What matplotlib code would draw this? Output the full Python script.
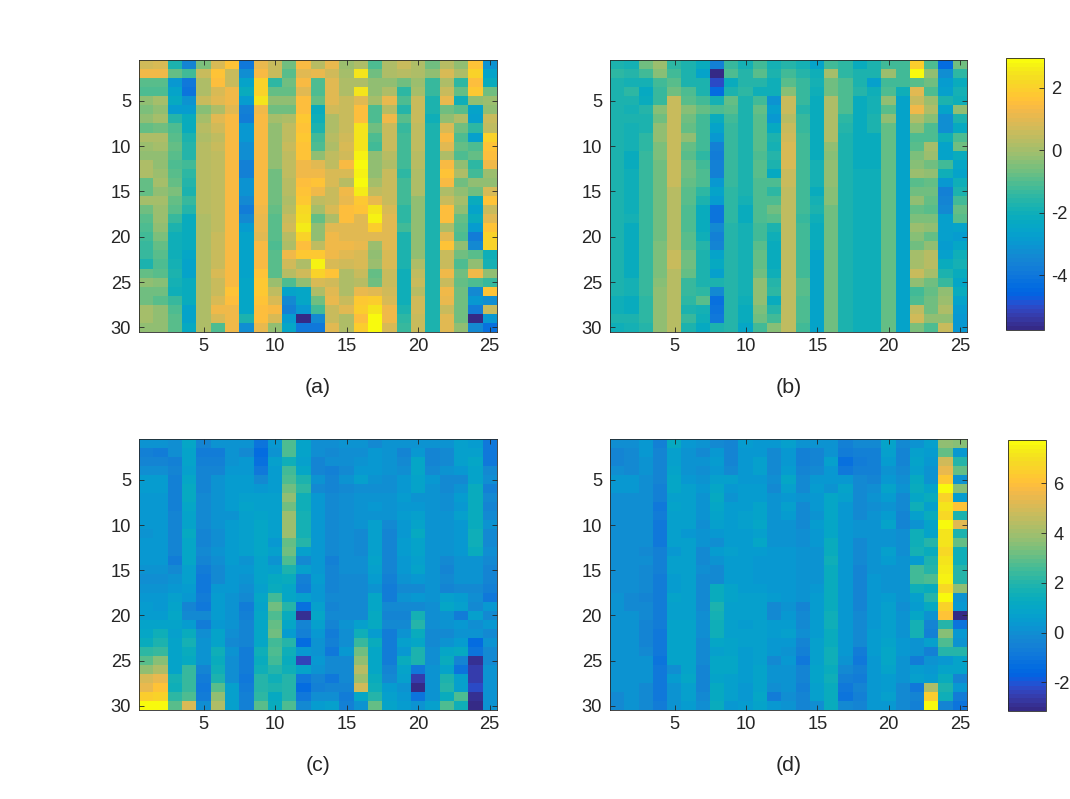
import numpy as np
import matplotlib
matplotlib.use("Agg")
import matplotlib.pyplot as plt
from matplotlib.colors import ListedColormap

plt.rcParams['font.family'] = ['Liberation Sans', 'DejaVu Sans']

panel_a = [
[0.7,0.8,-1.7,-3.5,-0.5,0.9,1.7,-3.9,1.1,0.5,-0.7,1.4,0.3,1.1,-0.1,0.1,-1.1,0.2,0.5,0.1,-0.6,0.3,-0.2,1.7,-3.1],
[1.2,1.2,-0.8,-1.2,0.5,1.7,0.6,-3.2,1.4,0.6,-1.0,1.0,1.1,0.7,0.0,2.4,-0.7,0.1,0.3,0.1,-0.3,0.8,0.2,2.0,-2.5],
[-1.0,-1.0,-3.0,-3.9,0.1,1.5,0.6,-2.6,2.0,-1.5,-0.7,1.4,-1.1,1.0,0.2,0.2,-0.3,-0.3,-0.7,-0.1,-1.4,0.1,-1.5,1.5,-2.1],
[-1.1,-1.1,-2.6,-4.0,0.1,0.9,1.2,-2.1,2.1,-0.8,-0.8,1.0,-1.1,1.0,0.1,2.5,-0.3,0.1,-1.5,0.0,-1.4,0.6,-0.8,1.8,-0.6],
[-0.3,0.0,-2.3,-3.1,0.6,1.0,1.2,-2.9,2.4,-0.3,-0.3,1.5,-0.8,1.0,0.5,1.0,0.0,1.1,-1.1,0.6,-1.8,1.1,-2.0,-0.3,-0.1],
[-0.5,-0.2,-2.9,-2.9,-0.4,0.1,1.0,-3.6,1.2,-0.6,-0.6,1.5,-2.1,0.7,0.6,1.5,-1.1,0.3,-1.6,0.6,-1.7,-0.7,-0.9,-2.6,-0.3],
[-0.3,0.0,-1.6,-2.2,0.0,1.0,1.4,-3.8,1.4,0.0,0.2,1.8,-2.0,0.1,0.6,1.5,-1.1,1.2,-1.0,0.6,-2.0,-0.3,0.1,-2.7,0.6],
[-0.8,-0.7,-1.1,-2.2,0.3,0.7,1.4,-3.0,1.4,-0.3,0.4,1.7,-1.7,0.1,0.6,2.5,-0.7,0.6,-1.3,0.4,-1.7,0.9,-0.7,-1.5,0.4],
[0.1,0.1,-0.9,-1.8,0.1,0.4,1.4,-3.0,1.4,-0.3,0.4,1.8,-1.2,0.3,0.7,2.4,-1.1,0.6,-1.2,0.4,-1.7,1.4,-1.1,-2.7,2.1],
[-0.1,0.0,-0.8,-1.6,0.3,0.6,1.4,-3.2,1.4,-0.3,0.5,1.7,-1.1,0.1,0.8,2.4,-1.2,0.5,-1.2,0.4,-1.7,1.0,-0.8,-1.1,1.7],
[-0.2,-0.2,-0.9,-1.6,0.3,0.4,1.4,-3.2,1.4,-0.3,0.4,1.7,-0.2,0.4,0.7,2.7,-0.3,0.3,-1.2,0.3,-1.7,0.1,-1.1,-0.8,1.5],
[0.2,-0.2,-1.1,-1.2,0.3,0.4,1.4,-3.7,1.4,-0.3,0.4,1.3,1.0,0.4,1.4,2.9,-0.2,0.1,-1.2,0.3,-1.7,1.4,-0.3,-1.5,1.2],
[0.2,-0.1,-1.0,-1.5,0.3,0.4,1.4,-3.6,1.4,-0.6,0.4,1.3,1.3,0.9,0.8,2.8,-0.2,0.5,-1.5,0.1,-1.7,1.7,0.1,-1.2,-0.1],
[-0.8,0.0,-0.8,-1.6,0.3,0.4,1.4,-3.1,1.4,-0.6,0.3,1.5,1.7,0.9,0.3,2.9,0.0,0.5,-1.2,0.1,-1.7,1.4,-0.6,-0.2,-0.2],
[-0.8,-0.2,-0.5,-1.7,0.3,0.4,1.4,-3.1,1.4,-0.6,0.3,1.7,1.2,0.5,1.3,2.6,0.4,0.5,-1.2,0.1,-1.7,0.1,-0.3,-0.7,0.8],
[0.0,0.0,-0.8,-1.3,0.3,0.4,1.4,-3.4,1.4,-0.6,0.2,1.8,0.4,0.5,1.1,1.8,1.1,0.5,-1.2,-0.2,-1.7,0.6,0.0,-2.1,1.7],
[-0.7,-0.1,-1.0,-1.6,0.3,0.4,1.4,-3.8,1.3,-0.8,0.3,2.2,0.0,0.8,1.5,1.6,2.4,0.8,-1.5,-0.2,-1.7,1.5,-0.2,-2.6,0.6],
[-1.0,-0.1,-1.4,-2.1,0.2,0.4,1.4,-3.4,1.1,-1.0,0.5,2.3,-0.8,0.1,1.5,1.0,2.7,1.0,-1.5,-0.2,-1.7,1.5,-0.8,-2.2,1.0],
[-1.1,-0.3,-1.7,-2.1,0.2,0.4,1.4,-2.9,1.1,-1.0,0.7,2.6,-0.3,1.0,1.0,1.0,1.9,1.0,-1.2,-0.2,-1.7,0.2,-1.0,-2.9,1.6],
[-1.2,-0.5,-2.0,-2.1,0.2,0.5,1.4,-2.6,1.0,-1.0,0.3,2.0,-0.3,1.3,1.0,1.0,1.0,1.0,-1.7,-0.2,-1.7,1.0,-1.1,-3.8,2.1],
[-1.4,-0.8,-2.0,-2.1,0.2,0.5,1.4,-2.6,1.4,-1.1,0.2,1.5,0.4,1.3,1.2,1.1,-0.1,1.0,-1.7,-0.3,-1.7,1.6,-0.2,-3.4,2.1],
[-1.4,-1.0,-2.0,-2.4,0.2,0.5,1.4,-2.6,1.4,-1.0,1.3,1.8,1.8,1.3,1.0,0.9,-0.2,0.9,-1.7,-0.3,-1.7,0.6,-0.7,-1.0,-2.0],
[-1.7,-1.1,-1.9,-2.5,0.2,0.5,1.4,-2.6,1.4,-1.0,0.7,0.1,2.8,0.9,0.7,0.8,-0.1,0.9,-1.7,0.1,-1.7,0.6,-1.1,-0.3,-1.9],
[-0.8,-1.0,-1.7,-2.5,0.1,0.8,1.4,-2.6,1.6,-1.0,0.3,0.7,2.0,1.6,0.1,0.5,-0.8,0.6,-2.0,0.4,-1.7,1.3,-0.7,1.3,-0.2],
[-0.3,-0.4,-1.9,-2.2,0.1,0.6,1.4,-2.4,1.8,-0.1,-1.1,-0.3,0.9,0.7,0.2,0.3,-0.7,0.6,-2.0,0.5,-1.7,0.5,-0.8,-1.1,-1.4],
[-0.7,-0.7,-2.0,-2.1,0.1,0.6,1.6,-2.4,1.8,0.4,-2.6,-2.4,0.1,1.0,0.1,1.1,1.0,0.7,-2.0,0.3,-1.7,1.3,-0.7,-3.4,1.6],
[-0.6,-1.0,-1.4,-2.2,0.1,0.8,1.5,-2.4,1.7,0.8,-3.4,-2.4,-0.7,1.1,0.5,1.8,1.9,0.8,-2.0,0.7,-1.7,1.1,-0.6,-3.0,-3.3],
[0.0,-0.2,-1.1,-2.5,0.1,1.2,1.3,-2.4,1.5,1.4,-3.7,-3.0,-1.2,0.6,1.0,1.9,2.5,1.2,-1.8,0.7,-1.7,0.6,-0.6,-3.8,0.5],
[0.0,-0.2,-1.0,-2.6,0.1,0.8,1.3,-1.8,1.5,0.8,-2.9,-5.7,-3.4,0.6,0.2,1.5,2.9,1.2,-1.5,0.6,-1.7,1.0,-0.6,-5.7,-3.0],
[-0.2,-0.3,-1.0,-2.3,0.1,-1.1,1.3,-3.2,1.1,-0.3,-2.4,-3.9,-3.9,1.0,0.2,1.9,2.9,0.9,-1.3,0.6,-1.7,1.0,-0.3,-3.4,-4.2],
]

panel_b = [
[-1.8,-1.9,-0.7,-0.1,-1.5,-1.8,-2.2,-3.7,-1.3,-1.9,-1.2,-1.9,-1.6,-1.9,-2.5,-1.2,-1.5,-2.2,-1.8,-1.2,-1.2,1.9,-1.1,-4.4,-0.6],
[-1.5,-1.6,-1.2,-0.4,-1.2,-1.8,-2.5,-5.7,-1.1,-1.6,-1.0,-1.8,-1.2,-1.6,-2.0,0.0,-1.5,-1.7,-1.7,-0.1,-1.2,2.9,-0.3,-3.3,-1.5],
[-1.8,-1.9,-1.9,-1.2,-0.9,-1.8,-1.7,-5.0,-2.1,-1.6,-1.6,-2.0,-0.9,-1.3,-1.9,-0.6,-1.1,-1.8,-2.7,-1.2,-1.2,-1.0,-0.6,-2.9,-2.2],
[-1.7,-1.5,-2.3,-1.3,-0.6,-1.1,-1.7,-4.3,-1.8,-1.5,-2.0,-2.0,-0.4,-1.3,-2.0,-0.6,-1.1,-1.6,-2.0,-1.1,-2.0,1.0,-1.1,-2.7,-1.9],
[-1.8,-1.8,-2.2,-1.3,0.5,-0.9,-1.2,-1.9,-0.8,-1.8,-1.2,-3.1,0.5,-1.3,-2.2,0.1,-1.1,-2.2,-1.9,-0.3,-2.6,0.6,-0.1,-1.8,-2.0],
[-1.8,-1.9,-1.6,-0.4,0.6,-0.4,-0.8,-1.1,-1.0,-1.8,-0.8,-2.7,0.5,-1.6,-2.2,0.1,-1.1,-2.2,-1.9,-0.9,-2.6,1.2,0.1,-2.6,-0.3],
[-1.8,-1.7,-1.8,-0.7,0.6,-0.7,-1.2,-2.1,-1.2,-1.8,-1.0,-3.0,0.3,-1.3,-2.2,0.1,-1.5,-2.2,-1.8,-0.3,-2.5,0.1,-0.4,-3.3,-1.7],
[-1.8,-1.9,-1.8,-0.2,0.6,-0.8,-1.2,-2.6,-1.3,-1.8,-1.0,-2.3,0.5,-1.3,-2.2,0.1,-1.6,-2.2,-1.8,-0.8,-2.5,-0.4,-1.1,-3.3,-2.3],
[-1.8,-1.9,-1.5,-0.2,0.6,-0.3,-1.2,-3.0,-1.3,-1.8,-1.0,-1.7,0.7,-1.2,-2.1,0.1,-1.7,-2.2,-2.1,-0.8,-2.6,-1.1,-1.1,-2.0,-1.1],
[-1.8,-1.9,-1.5,-0.5,0.6,-0.8,-1.2,-3.6,-1.3,-1.8,-1.0,-1.9,0.8,-1.2,-2.1,-0.3,-1.7,-2.2,-2.1,-0.8,-2.6,-0.9,0.0,-2.6,-0.7],
[-1.8,-2.2,-1.4,-0.5,0.6,-1.0,-1.5,-3.8,-1.4,-1.7,-1.1,-1.6,0.8,-1.2,-2.1,-0.4,-1.7,-2.2,-2.1,-0.8,-2.6,-0.5,-0.1,-2.6,-2.2],
[-1.8,-2.2,-1.4,-0.7,0.6,-0.6,-1.2,-3.7,-1.3,-1.7,-1.0,-1.7,0.8,-1.2,-1.9,-0.3,-1.7,-2.1,-2.1,-0.8,-2.6,-0.4,-0.7,-1.2,-2.4],
[-1.8,-2.0,-1.4,-0.7,0.5,-0.6,-1.1,-3.6,-1.3,-1.8,-1.0,-2.3,0.5,-1.2,-1.9,-0.3,-1.7,-2.0,-2.0,-0.8,-2.6,-0.1,-0.3,-2.0,-2.5],
[-1.8,-2.0,-1.4,-0.7,0.5,-0.8,-1.1,-3.0,-1.3,-1.8,-1.1,-1.1,0.5,-1.2,-1.9,-0.3,-1.7,-2.0,-2.0,-0.8,-2.6,-0.9,-0.8,-3.0,-2.0],
[-1.8,-2.0,-1.3,-0.7,0.3,-0.9,-1.5,-2.6,-1.5,-1.8,-1.1,-1.5,0.4,-1.2,-2.2,-0.4,-1.7,-2.0,-2.0,-0.8,-2.6,-0.7,-0.7,-3.7,-1.7],
[-1.8,-2.0,-1.3,-0.7,0.3,-0.9,-1.7,-2.9,-1.5,-1.9,-1.1,-1.1,0.4,-1.2,-1.9,-0.4,-1.7,-2.0,-2.0,-0.8,-2.6,-0.3,-0.8,-3.5,-1.2],
[-1.8,-2.0,-1.3,-0.7,0.3,-1.1,-2.2,-4.1,-1.5,-2.1,-1.1,-0.7,0.4,-1.2,-1.8,-0.7,-1.7,-2.0,-2.0,-0.8,-2.6,-0.8,-0.9,-3.4,-0.8],
[-1.8,-1.9,-1.3,-0.7,0.3,-1.1,-2.2,-4.0,-1.5,-2.1,-1.1,-0.9,0.4,-1.3,-2.0,-0.7,-1.7,-2.0,-2.0,-0.8,-2.6,-0.5,-0.5,-2.7,-0.9],
[-1.8,-2.2,-1.3,-0.7,0.3,-1.1,-2.2,-3.4,-1.6,-1.9,-1.2,-1.7,0.4,-1.2,-2.2,-0.7,-1.8,-2.0,-2.0,-0.8,-2.6,-0.1,-0.2,-2.7,-2.6],
[-1.8,-2.2,-1.3,-0.7,0.3,-0.9,-2.0,-3.6,-1.6,-1.9,-1.2,-2.0,0.4,-1.2,-2.2,-0.6,-1.8,-2.0,-2.0,-0.8,-2.6,-0.4,-0.8,-2.7,-2.9],
[-1.8,-2.2,-1.3,-0.5,0.3,-0.9,-1.6,-3.5,-1.6,-1.9,-1.0,-2.1,0.4,-1.2,-2.2,-0.7,-1.8,-2.0,-2.0,-0.8,-2.6,-0.6,-0.3,-2.8,-2.4],
[-1.8,-2.2,-1.3,-0.5,0.5,-0.6,-1.8,-2.6,-1.6,-1.9,-0.8,-2.2,0.4,-1.2,-2.6,-0.7,-1.8,-2.0,-2.0,-0.8,-2.6,0.0,0.3,-2.7,-2.0],
[-1.8,-2.2,-1.3,-0.5,0.5,-0.6,-1.8,-2.3,-1.6,-1.9,-0.8,-2.1,0.4,-1.2,-2.6,-0.7,-1.8,-2.0,-2.0,-0.8,-2.6,0.0,0.3,-2.2,-1.9],
[-1.8,-2.2,-1.3,-0.5,0.3,-0.8,-1.8,-2.7,-1.6,-1.9,-0.6,-2.0,0.4,-1.2,-2.5,-0.7,-1.8,-2.0,-2.0,-0.8,-2.6,0.5,0.0,-1.7,-2.2],
[-1.8,-1.9,-1.4,-0.4,0.3,-1.3,-1.8,-1.8,-1.6,-1.9,-0.2,-1.6,0.4,-1.0,-2.5,-0.7,-1.8,-2.0,-2.0,-0.8,-2.6,-0.3,-0.7,-1.3,-2.4],
[-1.8,-1.9,-1.4,-0.3,0.3,-1.4,-1.5,-3.4,-1.6,-1.9,-0.2,-1.5,0.4,-1.0,-2.5,-0.7,-1.8,-2.0,-2.0,-0.8,-2.6,-1.2,-0.8,-0.2,-2.1],
[-2.0,-2.1,-1.5,-0.2,0.3,-1.5,-1.0,-4.2,-1.6,-2.0,-0.2,-2.1,0.4,-1.1,-2.6,-0.7,-1.8,-2.0,-2.0,-0.8,-2.6,-1.1,-0.6,-0.1,-2.6],
[-2.0,-2.1,-1.5,-0.2,0.3,-1.7,-1.9,-4.1,-1.6,-2.1,-0.5,-1.6,0.4,-1.1,-2.6,-0.7,-1.8,-2.0,-2.0,-0.8,-2.6,0.4,-0.6,0.2,-2.9],
[-1.7,-1.8,-1.5,-0.2,0.3,-1.4,-2.0,-3.9,-1.6,-2.1,-0.7,-1.2,0.4,-1.1,-2.6,-0.7,-1.8,-2.0,-2.0,-0.8,-2.6,0.7,-0.3,-0.3,-3.0],
[-2.0,-1.9,-1.6,-0.3,0.3,-1.8,-2.3,-1.8,-1.6,-2.4,-1.2,-0.4,0.4,-1.2,-2.5,-0.7,-1.8,-2.0,-2.0,-0.8,-2.6,-0.5,-1.1,0.6,-3.0],
]

panel_c = [
[0.2,0.2,0.0,1.0,-0.4,0.1,0.2,0.2,-1.1,0.3,2.8,0.8,0.0,0.0,0.1,0.2,-0.1,0.1,0.1,0.2,0.1,0.1,0.6,0.5,-0.8],
[-0.5,-0.6,0.0,0.9,-0.6,-0.6,0.2,-0.1,-1.3,0.1,2.7,0.8,0.0,-0.2,0.0,0.0,0.4,0.2,-0.4,0.4,-0.3,-0.1,0.6,0.6,-0.8],
[-0.4,-0.3,-0.5,0.8,-0.5,-0.5,0.2,0.3,-1.2,0.6,1.6,0.7,-0.4,0.0,0.0,0.2,0.4,0.2,-0.2,1.0,-0.3,-0.1,0.6,1.0,-0.9],
[0.0,0.0,-0.4,0.7,-0.3,-0.3,0.3,0.4,-0.9,0.5,2.5,1.1,-0.4,-0.5,-0.2,0.4,0.4,0.2,0.0,1.0,-0.2,0.2,0.4,0.9,-0.2],
[0.5,0.5,-0.5,1.1,-0.4,0.2,0.5,0.5,-0.1,0.5,2.7,1.9,0.1,-0.3,0.1,0.6,0.1,0.0,0.3,0.9,0.3,-0.2,-0.1,0.9,0.0],
[0.5,0.5,-0.5,1.2,-0.4,0.1,0.5,0.5,0.3,0.5,3.2,2.2,-0.1,-0.4,-0.1,0.0,0.0,0.0,0.3,0.8,0.2,-0.1,0.1,1.4,-0.5],
[0.3,0.3,-0.5,1.2,-0.2,0.1,0.5,0.7,0.7,0.7,3.7,1.5,0.4,-0.2,0.0,0.1,0.2,0.2,0.5,0.2,0.1,0.0,0.5,1.3,-0.2],
[0.3,0.3,-0.5,1.1,-0.2,0.1,0.5,0.8,0.7,0.7,3.3,1.6,0.4,-0.2,0.0,0.1,0.3,0.2,0.4,0.3,0.1,0.0,0.4,1.4,-0.4],
[0.4,0.3,-0.4,0.9,-0.2,0.1,0.2,0.7,0.8,0.7,3.9,1.7,0.4,-0.2,0.0,0.1,0.2,0.2,0.5,0.6,0.2,0.1,0.6,1.4,-0.2],
[0.4,0.4,-0.3,0.9,-0.2,0.1,0.5,0.7,1.0,0.7,3.9,1.7,0.4,-0.2,0.0,0.1,0.7,-0.2,0.4,0.9,0.2,0.2,0.4,1.4,0.2],
[0.2,0.3,-0.3,1.2,-0.4,0.0,0.5,0.6,1.1,0.7,3.9,1.7,0.4,-0.2,0.0,-0.2,0.7,-0.3,0.4,1.2,0.2,0.1,0.3,1.5,-0.1],
[0.3,0.3,-0.3,1.1,-0.4,0.0,0.5,0.6,1.0,0.4,3.0,2.1,0.3,-0.2,0.0,-0.2,0.7,-0.3,0.5,0.9,0.2,0.1,0.3,1.5,-0.1],
[0.4,0.4,-0.3,1.1,-0.2,0.2,0.5,0.7,1.0,0.6,3.2,0.7,0.4,-0.1,0.0,-0.1,0.7,-0.3,0.5,0.9,0.2,0.1,0.3,1.4,0.0],
[0.4,0.3,-0.6,1.0,-0.4,0.0,0.5,0.2,0.9,0.2,2.8,-0.1,0.4,-0.5,0.0,0.0,0.8,-0.4,0.4,0.7,0.2,-0.1,0.2,0.1,-0.2],
[0.1,0.2,-0.1,0.7,-0.7,-0.1,0.4,0.3,0.9,0.7,1.8,0.6,0.4,-0.3,0.0,0.0,0.7,-0.4,0.4,0.9,0.2,-0.4,0.1,0.1,-0.3],
[0.0,0.0,0.1,0.7,-0.8,-0.1,0.4,0.1,0.8,1.2,1.4,-0.5,0.5,-0.3,-0.2,-0.2,0.5,-0.5,0.2,0.4,0.2,-0.2,0.1,0.1,-0.3],
[0.1,0.1,0.3,0.5,-0.9,0.3,0.3,0.0,0.7,1.3,1.0,-0.7,0.4,-0.3,-0.2,-0.2,0.2,-0.7,-0.1,-0.1,0.1,-0.4,-0.1,-0.1,-0.5],
[0.4,0.4,0.7,0.3,-0.7,0.5,0.2,-0.1,1.1,2.5,1.0,0.7,0.3,-0.2,-0.2,-0.2,1.0,-0.6,0.1,0.4,0.1,0.6,0.5,0.0,-0.9],
[0.5,0.4,0.8,-0.3,-0.8,0.5,0.1,-0.6,0.9,3.3,2.0,-1.2,0.6,-0.3,-0.2,-0.2,1.0,-0.2,-0.2,-0.1,0.0,1.0,0.7,-0.1,0.4],
[0.5,0.5,1.0,-0.1,-0.1,0.5,0.2,-0.5,1.1,2.7,1.4,-2.9,1.0,-0.2,-0.2,-0.2,1.2,-0.3,-0.4,1.7,0.0,0.1,-0.6,0.6,-0.2],
[0.8,0.8,0.9,0.5,-0.6,0.4,0.1,-0.4,1.1,3.1,1.1,-0.3,0.6,-0.4,0.1,0.7,1.2,-0.2,-0.2,2.0,0.0,0.1,0.3,0.0,0.3],
[1.0,1.5,0.7,1.4,0.0,0.8,0.0,-0.3,1.1,3.2,0.5,-0.5,0.4,-0.6,0.0,1.5,0.5,-0.7,0.1,1.4,-0.1,-0.2,0.2,0.1,-0.1],
[1.4,1.8,0.8,1.7,0.2,0.8,-0.1,-0.4,1.1,2.5,2.0,-1.4,0.1,-0.5,0.0,2.4,1.3,-0.6,0.6,1.0,-0.1,0.2,0.5,-1.3,0.2],
[2.2,2.4,0.9,1.3,0.2,1.6,0.1,-0.6,1.5,2.7,1.6,0.4,0.2,-0.8,0.3,3.3,1.1,-0.6,0.4,1.8,0.0,1.1,1.2,-1.0,-0.1],
[2.9,3.6,0.9,1.2,0.2,1.4,0.0,-0.7,1.4,2.6,1.4,-2.4,0.3,-0.1,-0.1,3.8,1.0,-0.7,1.4,1.9,0.0,1.4,-0.4,-2.9,-0.2],
[3.8,4.3,0.9,2.4,-0.4,1.5,0.0,-0.7,1.5,2.1,1.5,0.9,0.2,-0.1,-0.1,4.4,1.1,-0.3,0.9,-0.8,0.1,0.8,-1.1,-2.6,0.2],
[5.1,5.5,1.7,2.4,-0.7,1.9,0.0,-0.9,2.0,1.6,2.1,-0.9,-0.4,-0.8,-0.2,3.9,1.4,-0.1,0.7,-2.6,0.1,1.8,0.7,-2.6,0.2],
[5.4,6.2,1.6,2.3,-0.8,2.9,0.7,-0.7,2.0,1.8,2.0,-1.3,-0.5,-0.3,-0.4,4.9,1.6,0.5,0.2,-3.1,0.1,2.1,0.6,-2.3,0.2],
[6.4,6.7,2.2,2.8,-0.6,3.8,0.7,-0.5,2.2,1.2,2.1,-0.9,0.0,0.0,-0.7,1.1,2.1,0.6,0.4,-1.0,0.2,1.3,2.7,-2.9,0.2],
[7.7,7.7,2.9,5.1,0.0,4.3,0.6,-0.5,2.9,1.3,2.7,-0.1,0.5,0.6,-0.5,0.1,3.0,0.9,0.5,0.1,0.6,2.7,1.6,-3.1,0.2],
]

panel_d = [
[0.0,0.0,0.3,-0.5,1.2,0.3,0.2,-0.1,-0.3,0.5,0.4,0.4,0.6,0.2,0.2,0.2,-0.5,-0.2,-0.2,0.8,-0.2,0.2,0.7,3.7,3.5],
[-0.4,-0.2,0.3,-0.3,0.6,0.2,-0.1,0.3,-0.3,0.3,0.3,-0.1,0.3,-0.5,-0.4,0.2,-0.6,-0.5,-0.5,0.7,-0.3,0.7,0.5,3.0,0.4],
[-0.3,-0.2,0.1,-0.4,0.7,0.2,0.1,0.5,-0.3,0.3,0.6,-0.1,0.3,-0.5,-0.4,0.7,-1.2,-0.6,-0.5,0.5,-0.4,0.9,0.3,5.0,2.0],
[0.0,-0.1,0.1,-0.4,0.9,0.2,0.0,0.4,-0.2,0.3,0.6,-0.1,0.5,-0.3,-0.2,0.4,-0.9,-0.5,-0.5,0.2,-0.2,0.7,0.1,5.5,3.1],
[0.3,0.3,0.0,-0.4,1.0,0.4,0.1,0.7,0.6,0.4,0.4,0.0,1.1,-0.1,0.3,0.4,0.4,-0.2,-0.3,0.3,0.0,1.2,0.2,6.3,0.1],
[0.3,0.3,0.0,-0.5,1.0,0.6,0.3,1.1,0.3,0.5,0.5,-0.2,0.7,-0.1,0.5,0.1,0.8,-0.1,0.0,0.8,0.1,1.3,0.9,7.7,3.6],
[0.0,0.0,0.0,-0.5,0.6,0.6,0.2,1.2,0.2,0.5,0.5,0.1,0.3,0.1,0.3,1.1,0.6,-0.1,0.1,0.5,-0.1,1.0,1.3,6.6,0.5],
[0.0,0.0,0.0,-0.8,0.8,0.6,0.2,1.1,0.5,0.5,0.9,0.1,0.7,-0.1,0.4,1.1,0.4,-0.1,0.0,0.1,-0.2,1.5,0.6,7.2,6.1],
[0.0,0.0,0.0,-0.6,0.6,0.6,0.1,0.8,0.5,0.6,0.9,0.1,0.5,-0.1,0.2,1.0,0.3,-0.2,0.1,0.5,-0.3,0.6,1.3,6.8,1.8],
[0.0,0.0,0.0,-0.8,0.6,0.6,0.0,0.7,0.5,0.7,1.0,0.1,0.2,-0.1,0.5,1.1,0.4,0.1,0.1,0.9,-0.3,0.1,0.8,7.7,5.3],
[0.0,0.0,0.0,-0.8,0.6,0.4,0.1,0.4,0.5,0.5,0.7,0.1,0.2,0.0,0.4,1.1,0.3,0.1,0.2,0.2,0.0,1.5,0.8,7.2,1.8],
[0.0,0.0,0.0,-0.8,0.6,0.7,0.1,0.0,0.5,0.5,1.0,0.1,0.2,0.0,0.3,1.4,0.3,-0.1,0.2,0.2,0.0,1.6,2.0,7.2,3.0],
[0.0,0.0,-0.2,-0.5,0.4,0.7,-0.1,0.5,0.6,0.5,0.5,0.3,0.3,0.1,0.2,1.4,0.3,-0.1,0.2,0.7,0.0,1.7,1.3,6.8,1.6],
[0.0,0.0,0.0,-0.5,0.6,0.6,-0.1,0.1,0.5,0.5,0.4,0.3,0.3,0.1,0.1,1.6,0.3,-0.1,0.1,0.5,0.1,0.5,1.8,7.2,1.5],
[0.0,0.0,-0.1,-0.5,0.6,0.6,0.0,-0.1,0.5,0.5,0.4,0.4,0.3,0.1,0.1,1.4,0.3,-0.3,0.1,0.1,0.1,2.5,2.0,7.3,2.0],
[0.0,0.0,-0.2,-0.6,0.5,0.6,-0.2,-0.1,0.5,0.5,0.4,0.3,0.3,0.1,0.1,1.3,0.3,-0.4,0.3,0.1,0.1,2.5,2.7,7.5,2.0],
[0.0,0.0,-0.2,-0.6,0.5,0.6,-0.2,1.3,0.8,0.5,0.5,0.3,0.3,0.1,0.3,1.4,0.4,-0.4,0.3,0.1,0.1,1.6,1.4,6.8,3.8],
[0.2,-0.1,-0.3,-0.6,0.8,0.6,-0.1,1.3,0.8,0.7,0.7,0.5,0.3,0.1,0.5,1.3,0.4,-0.4,0.3,0.5,0.1,0.7,2.0,7.7,0.1],
[0.2,-0.1,-0.2,-0.6,0.6,0.6,-0.1,1.8,0.7,0.7,0.7,-0.1,0.2,-0.3,0.5,1.3,0.4,-0.4,0.3,0.7,0.0,0.5,1.2,6.7,0.3],
[0.2,0.2,-0.2,-0.6,0.6,0.6,0.0,1.7,0.7,0.7,0.7,-0.1,0.4,-0.1,0.5,1.5,0.3,-0.2,0.4,0.7,0.2,1.1,0.1,6.2,-3.0],
[0.2,0.2,-0.3,-0.7,0.9,0.9,0.0,1.6,0.7,0.5,0.7,0.5,0.5,-0.1,0.5,1.5,0.3,-0.2,0.3,0.7,0.2,1.7,-0.4,2.1,-1.0],
[0.2,0.2,-0.3,-0.8,0.9,0.9,0.0,1.6,0.7,0.6,0.7,0.5,0.6,0.0,0.5,1.4,0.4,-0.1,0.5,0.7,0.2,1.7,-0.5,3.5,0.4],
[0.1,0.1,-0.3,-0.8,0.9,0.9,-0.1,1.1,0.8,0.6,0.7,0.4,0.4,-0.4,0.6,1.4,0.3,-0.2,0.5,0.9,0.3,0.2,0.7,2.7,0.1],
[0.2,0.2,-0.2,-0.9,0.9,0.9,-0.2,0.7,0.8,0.5,0.7,0.3,0.2,-0.5,0.7,1.5,0.4,-0.7,0.5,1.0,0.3,0.2,-0.5,2.1,2.1],
[0.2,0.2,0.2,-1.0,0.9,0.9,-0.2,1.0,1.0,0.5,0.7,-0.1,0.4,-0.8,0.7,1.5,0.2,-0.9,0.4,1.0,0.2,-0.6,0.2,0.4,0.8],
[0.2,0.2,0.2,-0.9,0.0,0.9,-0.3,1.0,1.0,0.5,0.9,0.2,0.1,-0.4,0.8,1.4,-0.1,-0.5,0.4,0.9,0.1,0.5,0.3,0.9,0.8],
[0.2,0.2,0.2,-0.9,0.5,1.1,-0.3,0.9,0.7,0.5,0.9,0.1,0.1,-0.3,0.8,1.5,-0.5,-0.7,0.3,0.5,0.1,0.6,0.5,1.4,-0.4],
[0.2,0.2,-0.2,-0.9,0.2,0.7,-0.3,1.2,0.7,0.3,0.8,0.0,0.1,-0.5,0.6,1.4,-0.9,-0.3,0.4,0.5,-0.2,-0.8,4.3,1.9,0.4],
[-0.2,0.1,-0.2,-0.9,0.2,0.7,-0.1,1.2,0.6,0.4,1.1,-0.7,0.0,-0.3,0.6,1.3,-1.0,-0.5,0.3,0.7,-0.2,-0.3,6.4,1.5,-0.6],
[-0.1,0.1,-0.2,-0.7,0.2,0.5,0.0,1.4,0.3,0.5,0.9,0.4,0.1,-0.4,0.0,1.3,-0.2,-0.4,0.4,0.4,-0.2,-0.5,7.7,-0.3,-1.1],
]

panel_labels = ['(a)', '(b)', '(c)', '(d)']
x_ticks = [5, 10, 15, 20, 25]
y_ticks = [5, 10, 15, 20, 25, 30]
top_range = (-5.76, 2.94)
bottom_range = (-3.15, 7.73)
top_cbar_ticks = [-4, -2, 0, 2]
bottom_cbar_ticks = [-2, 0, 2, 4, 6]

parula = ListedColormap([
[0.2081,0.1663,0.5292],[0.2116,0.1898,0.5777],[0.2123,0.2138,0.6270],[0.2081,0.2386,0.6771],
[0.1959,0.2645,0.7279],[0.1707,0.2919,0.7792],[0.1253,0.3242,0.8303],[0.0591,0.3598,0.8683],
[0.0117,0.3875,0.8820],[0.0060,0.4086,0.8828],[0.0165,0.4266,0.8786],[0.0329,0.4430,0.8720],
[0.0498,0.4586,0.8641],[0.0629,0.4737,0.8554],[0.0723,0.4887,0.8467],[0.0779,0.5040,0.8384],
[0.0793,0.5200,0.8312],[0.0749,0.5375,0.8263],[0.0641,0.5570,0.8240],[0.0488,0.5772,0.8228],
[0.0343,0.5966,0.8199],[0.0265,0.6137,0.8135],[0.0239,0.6287,0.8038],[0.0231,0.6418,0.7913],
[0.0228,0.6535,0.7768],[0.0267,0.6642,0.7607],[0.0384,0.6743,0.7436],[0.0590,0.6838,0.7254],
[0.0843,0.6928,0.7062],[0.1133,0.7015,0.6859],[0.1453,0.7098,0.6646],[0.1801,0.7177,0.6424],
[0.2178,0.7250,0.6193],[0.2586,0.7317,0.5954],[0.3022,0.7376,0.5712],[0.3482,0.7424,0.5473],
[0.3953,0.7459,0.5244],[0.4420,0.7481,0.5033],[0.4871,0.7491,0.4840],[0.5300,0.7491,0.4661],
[0.5709,0.7485,0.4494],[0.6099,0.7473,0.4337],[0.6473,0.7456,0.4188],[0.6834,0.7435,0.4044],
[0.7184,0.7411,0.3905],[0.7525,0.7384,0.3768],[0.7858,0.7356,0.3633],[0.8185,0.7327,0.3498],
[0.8507,0.7299,0.3360],[0.8824,0.7274,0.3217],[0.9139,0.7258,0.3063],[0.9450,0.7261,0.2886],
[0.9739,0.7314,0.2666],[0.9938,0.7455,0.2403],[0.9990,0.7653,0.2164],[0.9955,0.7861,0.1967],
[0.9880,0.8066,0.1794],[0.9789,0.8271,0.1633],[0.9697,0.8481,0.1475],[0.9626,0.8705,0.1309],
[0.9589,0.8949,0.1132],[0.9598,0.9218,0.0948],[0.9661,0.9514,0.0755],[0.9763,0.9831,0.0538],
])

W, H = 1070, 799
INK = '#262626'
FS = 13.2

def pos(x0, x1, y0, y1):
    return [x0 / W, 1 - y1 / H, (x1 - x0) / W, (y1 - y0) / H]

fig = plt.figure(figsize=(W / 100, H / 100), dpi=100, facecolor='white')

layout = [
    (panel_a, pos(139.3, 496.8, 60, 332), top_range),
    (panel_b, pos(610.3, 967.3, 60, 332), top_range),
    (panel_c, pos(139.3, 496.8, 439.3, 710.3), bottom_range),
    (panel_d, pos(610.3, 967.3, 439.3, 710.3), bottom_range),
]
images = []
for (rows, box, rng), label in zip(layout, panel_labels):
    bad = [i for i, r in enumerate(rows) if len(r) != 25]
    if bad:
        raise ValueError(f'{label}: bad rows {bad}')
    ax = fig.add_axes(box)
    im = ax.imshow(np.array(rows), cmap=parula, vmin=rng[0], vmax=rng[1], aspect='auto',
                   interpolation='nearest', extent=(0.5, 25.5, 30.5, 0.5))
    ax.set_xticks(x_ticks)
    ax.set_yticks(y_ticks)
    ax.tick_params(direction='in', top=True, right=True, length=3.4, width=0.6,
                   colors=INK, labelsize=FS)
    ax.tick_params(axis='x', pad=4)
    ax.tick_params(axis='y', pad=6)
    ax.set_xlabel(label, fontsize=15.4, color=INK, labelpad=17)
    for s in ax.spines.values():
        s.set_linewidth(0.6)
        s.set_color(INK)
    images.append(im)

cbars = [
    (images[0], pos(1006.3, 1044, 58.3, 330), top_cbar_ticks),
    (images[2], pos(1008.3, 1046.3, 440.3, 711), bottom_cbar_ticks),
]
for im, box, ticks in cbars:
    cax = fig.add_axes(box)
    cb = fig.colorbar(im, cax=cax, ticks=ticks)
    cb.ax.tick_params(direction='in', length=3.4, width=0.6, colors=INK, labelsize=FS, pad=5)
    cb.ax.set_yticklabels([str(t) for t in ticks])
    cb.outline.set_linewidth(0.6)
    cb.outline.set_edgecolor(INK)

fig.savefig('out.png', dpi=100, facecolor='white')
